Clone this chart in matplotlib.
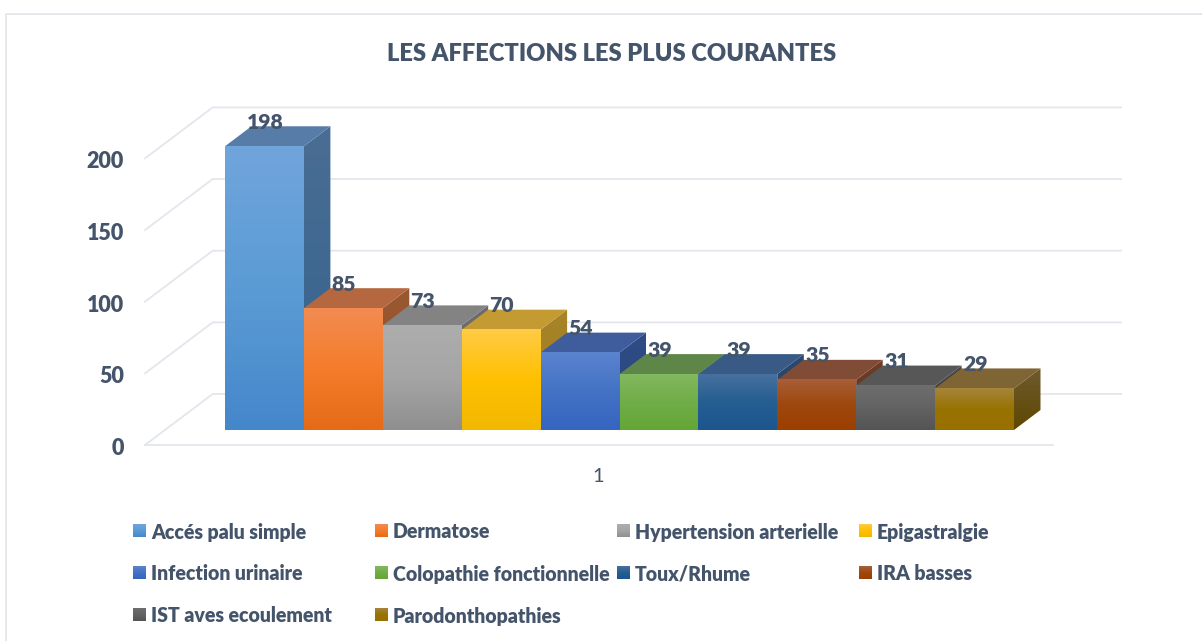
import numpy as np
import matplotlib
matplotlib.use('Agg')
import matplotlib.pyplot as plt
from matplotlib.colors import LinearSegmentedColormap
from matplotlib.patches import Polygon

title = "LES AFFECTIONS LES PLUS COURANTES"
categories = ["Accés palu simple", "Dermatose", "Hypertension arterielle", "Epigastralgie",
              "Infection urinaire", "Colopathie fonctionnelle", "Toux/Rhume", "IRA basses",
              "IST aves ecoulement", "Parodonthopathies"]
values = [198, 85, 73, 70, 54, 39, 39, 35, 31, 29]
y_ticks = [0, 50, 100, 150, 200]
x_label = "1"

front_top = ['#70A5DC', '#F28B52', '#ADADAD', '#FFCB45', '#5B83CF', '#82B85E', '#46709F', '#A85E38', '#6E6E6E', '#A5843C']
front_mid = ['#5B9BD5', '#F57C2A', '#A5A5A5', '#FFC000', '#4472C4', '#70AD47', '#255E91', '#9E480E', '#636363', '#997300']
front_bot = ['#4587CB', '#E56B18', '#8F8F8F', '#F2B800', '#3565C0', '#64A636', '#1D568F', '#9C3F00', '#545454', '#987000']
top_col = ['#587CA8', '#B5673F', '#838383', '#C49A33', '#3F5C9C', '#5E8648', '#395A85', '#804C35', '#575757', '#7F6434']
side_top = ['#4A6D93', '#9A5830', '#6C6C6C', '#A88428', '#2F4C85', '#4A7035', '#2C4A70', '#6E3E28', '#484848', '#6F5A30']
side_bot = ['#33638F', '#94512A', '#666666', '#9F7C1E', '#284680', '#41682C', '#1F4068', '#672F18', '#404040', '#5E4800']

text_col = '#44546A'
grid_col = '#E3E6EC'
ramp = np.linspace(0, 1, 64).reshape(-1, 1)

plt.rcParams['font.family'] = ['Lato', 'DejaVu Sans']

fig = plt.figure(figsize=(12.02, 6.41), dpi=100, facecolor='white')

# page layer in pixels: frame, title, legend
bg = fig.add_axes([0, 0, 1, 1])
bg.set_axis_off()


def gradient(ax, colors, extent, zorder):
    cmap = LinearSegmentedColormap.from_list('g', colors)
    return ax.imshow(ramp, cmap=cmap, extent=extent, aspect='auto', origin='upper',
                     interpolation='bilinear', zorder=zorder)


bg.plot([6, 6, 1202], [641, 13.5, 13.5], color='#E2E4EA', lw=1.2)
bg.text(611.5, 54, title, ha='center', va='center', fontsize=17.1, fontweight='heavy', color=text_col)

leg_x = [133, 375, 617, 859]
leg_y = [531, 573, 615]
for i, name in enumerate(categories):
    lx = leg_x[i % 4]
    ly = leg_y[i // 4]
    gradient(bg, [front_top[i], front_mid[i], front_bot[i]], (lx, lx + 13, ly + 6.5, ly - 6.5), 2)
    bg.text(lx + 18, ly + 1, name, ha='left', va='center', fontsize=14.05, fontweight='heavy', color=text_col)
bg.set_xlim(0, 1202)
bg.set_ylim(641, 0)

# chart: one x unit is one bar, y is in the value scale
x0_px, base_px, bar_px, unit_px = 225, 430, 78.9, 1.433
n = len(values)
ax = fig.add_axes([x0_px / 1202, (641 - base_px) / 641, n * bar_px / 1202, 200 * unit_px / 641])
ax.set_axis_off()
ax.patch.set_alpha(0)

# depth of a bar, in data units
dx = 26.5 / bar_px
dy = 20 / unit_px
# walls, in data units
wall_l, wall_r = -12.3 / bar_px, 896 / bar_px
wall_y = 36 / unit_px
floor_l, floor_r = -80 / bar_px, 828 / bar_px
floor_y = -15 / unit_px

for t in y_ticks:
    ax.plot([floor_l, wall_l, wall_r], [t + floor_y, t + wall_y, t + wall_y], color=grid_col, lw=1.3,
            clip_on=False, zorder=1, solid_joinstyle='miter')
    ax.text(floor_l - 21 / bar_px, t + floor_y - 3.5 / unit_px, str(t), ha='right', va='center', fontsize=15.5,
            fontweight='heavy', color=text_col, clip_on=False)
ax.plot([floor_l, floor_r], [floor_y, floor_y], color=grid_col, lw=1.3, clip_on=False, zorder=1)
ax.text(373 / bar_px, -46 / unit_px, x_label, ha='center', va='center', fontsize=14.5, color=text_col)

z = 3
for i, v in enumerate(values):
    side = Polygon([(i + 1, 0), (i + 1 + dx, dy), (i + 1 + dx, v + dy), (i + 1, v)],
                   closed=True, transform=ax.transData, facecolor='none', edgecolor='none')
    ax.add_patch(side)
    im = gradient(ax, [side_top[i], side_bot[i]], (i + 1, i + 1 + dx, 0, v + dy), z)
    im.set_clip_path(side)
    im.set_clip_box(fig.bbox)
    ax.add_patch(Polygon([(i, v), (i + 1, v), (i + 1 + dx, v + dy), (i + dx, v + dy)], closed=True,
                         facecolor=top_col[i], edgecolor='none', zorder=z + 1, clip_on=False))
    gradient(ax, [front_top[i], front_mid[i], front_bot[i]], (i, i + 1, 0, v), z + 2).set_clip_on(False)
    z += 3

for i, v in enumerate(values):
    ax.annotate(str(v), (i + 0.5, v), xytext=(0.5, 24 * 0.72), textcoords='offset points', ha='center', va='center',
                fontsize=15.2, fontweight='heavy', color=text_col, zorder=100, annotation_clip=False)

ax.set_xlim(0, n)
ax.set_ylim(0, 200)

fig.savefig('out.png', dpi=100)
